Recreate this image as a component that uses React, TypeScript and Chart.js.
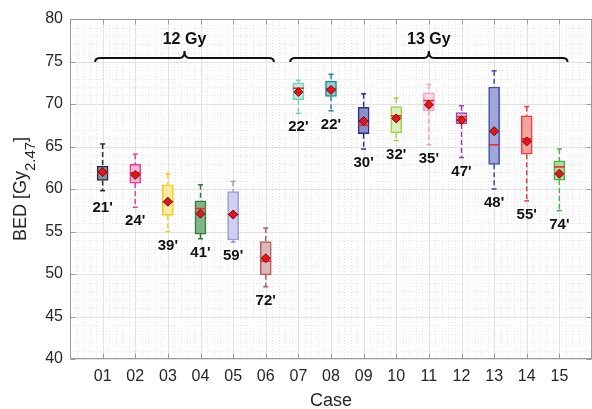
import React, { useEffect, useRef } from 'react';
import { Chart, registerables } from 'chart.js';
Chart.register(...registerables);

const cases = ['01', '02', '03', '04', '05', '06', '07', '08', '09', '10', '11', '12', '13', '14', '15'];
const whiskerHigh = [65.3, 64.1, 61.8, 60.5, 60.9, 55.4, 72.8, 73.5, 71.2, 70.7, 72.3, 69.8, 73.9, 69.7, 64.7];
const boxHigh = [62.7, 62.9, 60.5, 58.6, 59.7, 53.8, 72.5, 72.7, 69.6, 69.7, 71.3, 69.0, 72.0, 68.6, 63.3];
const medians = [61.85, 61.9, 58.5, 57.7, 57.0, 51.5, 71.85, 71.8, 67.5, 68.6, 70.4, 68.5, 65.2, 65.9, 62.6];
const means = [62.0, 61.65, 58.5, 57.1, 57.0, 51.85, 71.4, 71.65, 68.0, 68.3, 69.9, 68.1, 66.8, 65.6, 61.8];
const boxLow = [61.0, 60.7, 56.9, 54.7, 54.0, 49.9, 70.5, 70.9, 66.5, 66.6, 69.2, 67.65, 62.9, 64.1, 61.05];
const whiskerLow = [59.8, 57.85, 55.0, 54.15, 53.75, 48.5, 68.9, 69.2, 64.7, 65.7, 65.2, 63.7, 60.0, 58.6, 57.45];
const caseTimes = ["21'", "24'", "39'", "41'", "59'", "72'", "22'", "22'", "30'", "32'", "35'", "47'", "48'", "55'", "74'"];
const groupNames = ['12 Gy', '13 Gy'];
const groupStart = [0.77, 6.75];
const groupEnd = [6.25, 15.25];
const groupBraceY = [75.4, 75.4];
const yTickValues = [40, 45, 50, 55, 60, 65, 70, 75, 80];

const edgeColors = ['#262a45', '#e0429b', '#f2cf1d', '#2f7a3b', '#9a9ad6', '#b35a5a', '#72d3b4', '#1e8c9e', '#2c2f86', '#9bd24e', '#f3a3c6', '#9b46a8', '#3a4fae', '#e8403f', '#4caf48'];
const fillColors = ['#8d8f99', '#f6b3d6', '#fbeaa0', '#7fb487', '#cfcff0', '#dcb7b7', '#bfeede', '#98cdd6', '#8d8fcb', '#daf0b9', '#fad6e6', '#dcb6e0', '#a0a6da', '#f3a29f', '#aedb98'];

const FONT = "'Liberation Sans', Arial, Helvetica, sans-serif";
const X_MIN = 0;
const X_MAX = 16;
const Y_MIN = 40;
const Y_MAX = 80;

const decor = {
  id: 'decor',
  beforeDatasetsDraw(chart: any) {
    const { ctx, chartArea: a, scales } = chart;
    const x = scales.x;
    const y = scales.y;
    ctx.save();
    ctx.lineWidth = 1;
    ctx.strokeStyle = '#e6e6e6';
    ctx.setLineDash([1, 2]);
    for (let k = 0; k <= (X_MAX - X_MIN) * 5; k++) {
      if (k % 5 === 0) continue;
      const px = Math.round(x.getPixelForValue(X_MIN + k * 0.2)) + 0.5;
      ctx.beginPath(); ctx.moveTo(px, a.top); ctx.lineTo(px, a.bottom); ctx.stroke();
    }
    for (let v = Y_MIN; v <= Y_MAX; v++) {
      if (v % 5 === 0) continue;
      const py = Math.round(y.getPixelForValue(v)) + 0.5;
      ctx.beginPath(); ctx.moveTo(a.left, py); ctx.lineTo(a.right, py); ctx.stroke();
    }
    ctx.setLineDash([]);
    ctx.strokeStyle = '#e2e2e2';
    for (let v = X_MIN + 1; v < X_MAX; v++) {
      const px = Math.round(x.getPixelForValue(v)) + 0.5;
      ctx.beginPath(); ctx.moveTo(px, a.top); ctx.lineTo(px, a.bottom); ctx.stroke();
    }
    for (const v of yTickValues) {
      const py = Math.round(y.getPixelForValue(v)) + 0.5;
      ctx.beginPath(); ctx.moveTo(a.left, py); ctx.lineTo(a.right, py); ctx.stroke();
    }
    ctx.strokeStyle = '#9a9a9a';
    ctx.lineWidth = 1;
    const L = Math.round(a.left) + 0.5, R = Math.round(a.right) - 0.5;
    const T = Math.round(a.top) + 0.5, B = Math.round(a.bottom) - 0.5;
    ctx.strokeRect(L, T, R - L, B - T);
    for (let v = X_MIN + 1; v < X_MAX; v++) {
      const px = Math.round(x.getPixelForValue(v)) + 0.5;
      ctx.beginPath(); ctx.moveTo(px, B); ctx.lineTo(px, B - 5); ctx.stroke();
      ctx.beginPath(); ctx.moveTo(px, T); ctx.lineTo(px, T + 5); ctx.stroke();
    }
    for (const v of yTickValues) {
      const py = Math.round(y.getPixelForValue(v)) + 0.5;
      ctx.beginPath(); ctx.moveTo(L, py); ctx.lineTo(L + 5, py); ctx.stroke();
      ctx.beginPath(); ctx.moveTo(R, py); ctx.lineTo(R - 5, py); ctx.stroke();
    }
    ctx.restore();
  },
  afterDatasetsDraw(chart: any) {
    const { ctx, chartArea: a, scales } = chart;
    const x = scales.x;
    const y = scales.y;
    ctx.save();
    ctx.fillStyle = '#111111';
    ctx.font = `bold 15px ${FONT}`;
    ctx.textAlign = 'center';
    ctx.textBaseline = 'middle';
    caseTimes.forEach((t, i) => {
      ctx.fillText(t, x.getPixelForValue(i + 1), y.getPixelForValue(whiskerLow[i]) + (i === 0 ? 17 : 14));
    });
    ctx.strokeStyle = '#111111';
    ctx.lineWidth = 2;
    groupNames.forEach((name, g) => {
      const x0 = x.getPixelForValue(groupStart[g]);
      const x1 = x.getPixelForValue(groupEnd[g]);
      const xm = (x0 + x1) / 2;
      const yb = y.getPixelForValue(groupBraceY[g]);
      const tip = yb + 4;
      const peak = yb - 7;
      ctx.beginPath();
      ctx.moveTo(x0, tip);
      ctx.quadraticCurveTo(x0, yb, x0 + 5, yb);
      ctx.lineTo(xm - 5, yb);
      ctx.quadraticCurveTo(xm, yb, xm, peak);
      ctx.quadraticCurveTo(xm, yb, xm + 5, yb);
      ctx.lineTo(x1 - 5, yb);
      ctx.quadraticCurveTo(x1, yb, x1, tip);
      ctx.stroke();
      ctx.font = `bold 16px ${FONT}`;
      ctx.fillText(name, xm, peak - 12);
    });
    ctx.fillStyle = '#262626';
    ctx.font = `18px ${FONT}`;
    ctx.fillText('Case', (a.left + a.right) / 2, 401);
    const cy = (a.top + a.bottom) / 2;
    ctx.translate(21, cy);
    ctx.rotate(-Math.PI / 2);
    const mainFont = `18px ${FONT}`;
    const subFont = `15px ${FONT}`;
    ctx.font = mainFont;
    const w1 = ctx.measureText('BED [Gy').width;
    const w3 = ctx.measureText(']').width;
    ctx.font = subFont;
    const w2 = ctx.measureText('2.47').width;
    const total = w1 + w2 + w3;
    let sx = -total / 2;
    ctx.textAlign = 'left';
    ctx.font = mainFont;
    ctx.fillText('BED [Gy', sx, 0);
    sx += w1;
    ctx.font = subFont;
    ctx.fillText('2.47', sx, 10);
    sx += w2;
    ctx.font = mainFont;
    ctx.fillText(']', sx, 0);
    ctx.restore();
  },
};

export default function App() {
  const ref = useRef<HTMLCanvasElement | null>(null);
  useEffect(() => {
    if (!ref.current) return;
    const whiskerSets = cases.map((c, i) => ({
      type: 'line' as const,
      label: 'w' + c,
      data: [
        { x: i + 1, y: whiskerHigh[i] },
        { x: i + 1, y: boxHigh[i] },
        { x: i + 1, y: null },
        { x: i + 1, y: boxLow[i] },
        { x: i + 1, y: whiskerLow[i] },
      ],
      borderColor: edgeColors[i],
      borderWidth: 1.5,
      borderDash: [5, 3],
      pointRadius: 0,
      spanGaps: false,
      order: 5,
    }));
    const capColors: string[] = [];
    const capData: any[] = [];
    cases.forEach((c, i) => {
      capData.push({ x: i + 1, y: whiskerHigh[i] });
      capColors.push(edgeColors[i]);
      capData.push({ x: i + 1, y: whiskerLow[i] });
      capColors.push(edgeColors[i]);
    });
    const chart = new Chart(ref.current, {
      type: 'bar',
      data: {
        datasets: [
          {
            type: 'bar',
            label: 'box',
            data: cases.map((c, i) => ({ x: i + 1, y: [boxLow[i], boxHigh[i]] })) as any,
            backgroundColor: fillColors,
            borderColor: edgeColors,
            borderWidth: 1.5,
            borderSkipped: false,
            barThickness: 11,
            order: 3,
          } as any,
          ...whiskerSets,
          {
            type: 'scatter',
            label: 'caps',
            data: capData,
            pointStyle: 'line',
            pointRadius: 2.5,
            pointBorderColor: capColors,
            pointBorderWidth: 1.5,
            order: 4,
          } as any,
          {
            type: 'scatter',
            label: 'median',
            data: cases.map((c, i) => ({ x: i + 1, y: medians[i] })),
            pointStyle: 'line',
            pointRadius: 5.5,
            pointBorderColor: '#f02a2a',
            pointBorderWidth: 1.6,
            order: 1,
          } as any,
          {
            type: 'scatter',
            label: 'mean',
            data: cases.map((c, i) => ({ x: i + 1, y: means[i] })),
            pointStyle: 'rectRot',
            pointRadius: 4.5,
            pointBackgroundColor: '#e3161b',
            pointBorderColor: '#6e0b0b',
            pointBorderWidth: 1,
            order: 0,
          } as any,
        ],
      },
      options: {
        animation: false,
        responsive: true,
        maintainAspectRatio: false,
        devicePixelRatio: 1,
        layout: { padding: { top: 19, right: 4, left: 0, bottom: 0 } },
        plugins: { legend: { display: false }, tooltip: { enabled: false } },
        scales: {
          x: {
            type: 'linear',
            min: X_MIN,
            max: X_MAX,
            offset: false,
            grid: { display: false, drawTicks: false, tickLength: 0 },
            border: { display: false },
            ticks: {
              stepSize: 1,
              autoSkip: false,
              maxRotation: 0,
              padding: 8,
              color: '#262626',
              font: { family: FONT, size: 16 },
              callback: (v: any) => {
                const n = Number(v);
                return n >= 1 && n <= cases.length ? cases[n - 1] : '';
              },
            },
            afterFit: (s: any) => { s.height = 50; },
          },
          y: {
            type: 'linear',
            min: Y_MIN,
            max: Y_MAX,
            grid: { display: false, drawTicks: false, tickLength: 0 },
            border: { display: false },
            ticks: {
              stepSize: 5,
              padding: 7,
              color: '#262626',
              font: { family: FONT, size: 16 },
            },
            afterFit: (s: any) => { s.width = 70; },
          },
        },
      } as any,
      plugins: [decor],
    });
    return () => chart.destroy();
  }, []);
  return (
    <div style={{ position: 'fixed', left: 0, top: 0, width: 592, height: 409, overflow: 'hidden', background: '#ffffff' }}>
      <div style={{ position: 'relative', width: 600, height: 409 }}>
        <canvas ref={ref} />
      </div>
    </div>
  );
}
